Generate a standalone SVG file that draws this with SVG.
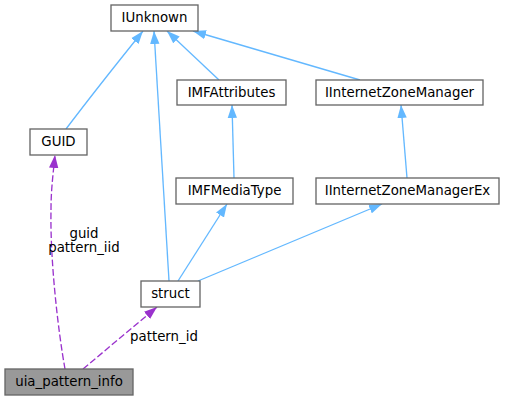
<svg xmlns="http://www.w3.org/2000/svg" width="505" height="400" viewBox="0 0 505 400">
<style>
text{font-family:"DejaVu Sans",sans-serif;font-size:13.33px;fill:#000;text-anchor:middle}
.box{fill:#fff;stroke:#666;stroke-width:1.33}
.cur{fill:#999;stroke:#666;stroke-width:1.33}
.inh{fill:none;stroke:#63b8ff;stroke-width:1.33}
.use{fill:none;stroke:#9a32cd;stroke-width:1.33;stroke-dasharray:6.7,2.7}
</style>
<defs>
<marker id="ab" markerUnits="userSpaceOnUse" markerWidth="13" markerHeight="10" refX="13" refY="5" orient="auto" viewBox="0 0 13 10"><path d="M0,0.3 L13,5 L0,9.7 z" fill="#63b8ff"/></marker>
<marker id="ap" markerUnits="userSpaceOnUse" markerWidth="13" markerHeight="10" refX="13" refY="5" orient="auto" viewBox="0 0 13 10"><path d="M0,0.3 L13,5 L0,9.7 z" fill="#9a32cd"/></marker>
</defs>
<g id="edges">
<path class="inh" marker-end="url(#ab)" d="M66,129 C88,100 118,62 143,31"/>
<path class="inh" marker-end="url(#ab)" d="M169,281 L154,31"/>
<path class="inh" marker-end="url(#ab)" d="M219,80 L167,31"/>
<path class="inh" marker-end="url(#ab)" d="M360,80 L193,31"/>
<path class="inh" marker-end="url(#ab)" d="M234,178 L232,105"/>
<path class="inh" marker-end="url(#ab)" d="M407,178 L401,105"/>
<path class="inh" marker-end="url(#ab)" d="M178,281 L227,204"/>
<path class="inh" marker-end="url(#ab)" d="M198,281 L382,204"/>
<path class="use" marker-end="url(#ap)" d="M65,369 C58,330 50,260 51,210 C51,190 53,175 55,155"/>
<path class="use" marker-end="url(#ap)" d="M83,369 L157,307"/>
<text x="84" y="238">guid</text>
<text x="84" y="252">pattern_iid</text>
<text x="164" y="341">pattern_id</text>
</g>
<g id="IUnknown"><rect class="box" x="111" y="5" width="87" height="26"/><text x="154.5" y="22">IUnknown</text></g>
<g id="IMFAttributes"><rect class="box" x="177" y="80" width="109" height="25"/><text x="231.5" y="97">IMFAttributes</text></g>
<g id="IInternetZoneManager"><rect class="box" x="316" y="80" width="167" height="25"/><text x="399.5" y="97">IInternetZoneManager</text></g>
<g id="GUID"><rect class="box" x="30" y="129" width="57" height="26"/><text x="58.5" y="146">GUID</text></g>
<g id="IMFMediaType"><rect class="box" x="176" y="178" width="117" height="26"/><text x="234.5" y="195">IMFMediaType</text></g>
<g id="IInternetZoneManagerEx"><rect class="box" x="316" y="178" width="183" height="26"/><text x="407.5" y="195">IInternetZoneManagerEx</text></g>
<g id="struct"><rect class="box" x="141" y="281" width="59" height="26"/><text x="170.5" y="298">struct</text></g>
<g id="uia_pattern_info"><rect class="cur" x="5" y="369" width="128" height="26"/><text x="69" y="386">uia_pattern_info</text></g>
</svg>
